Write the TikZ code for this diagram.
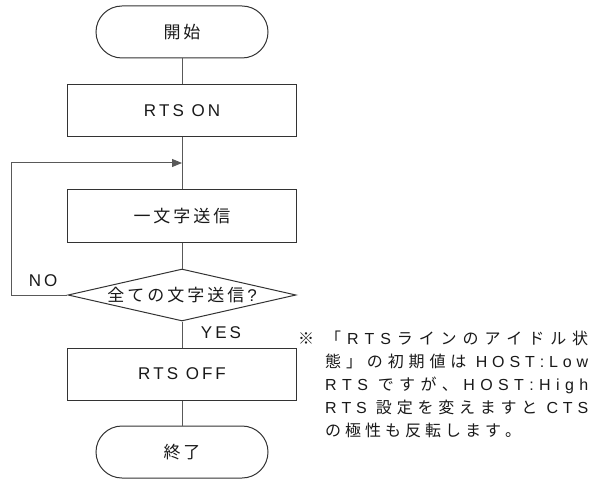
\documentclass[tikz,border=0pt]{standalone}
\usepackage{fontspec}
\setmainfont{Liberation Sans}
\newfontfamily\jp{Noto Sans CJK JP}
\usetikzlibrary{shapes.geometric,arrows.meta}
\newdimen\lsgapdim \lsgapdim=3bp
\def\lsgap{\hskip\lsgapdim\relax}
\def\sepchars#1{\sepfirst#1\relax}
\def\sepfirst#1{#1\seprest}
\def\seprest#1{\ifx\relax#1\else\lsgap#1\expandafter\seprest\fi}
\newcommand\jline[1]{\hbox to 263bp{\def\lsgap{\hskip 0pt plus 1fil\relax}#1}}
\tikzset{
  every node/.style={font=\fontsize{17bp}{20bp}\selectfont, text=black!90},
  notefont/.style={font=\fontsize{16bp}{19bp}\selectfont},
  term/.style={draw=black!80, line width=1bp, rounded corners=26bp, minimum width=172bp, minimum height=52bp, inner sep=0pt},
  proc/.style={draw=black!80, line width=1bp, minimum width=228bp, minimum height=52bp, inner sep=0pt},
  dec/.style={draw=black!80, line width=1bp, diamond, minimum width=228bp, minimum height=52bp, inner sep=0pt},
  conn/.style={draw=black!65, line width=1bp},
  notel/.style={notefont, anchor=base west, inner sep=0pt}
}
\begin{document}
\begin{tikzpicture}[x=1bp,y=-1bp]
\useasboundingbox (0,0) rectangle (593,479);
\node[term] (start) at (182,32) {{\jp\sepchars{開始}}};
\node[proc] (on) at (182,111) {\sepchars{RTS}\lsgap\ \sepchars{ON}};
\coordinate (join) at (182,163);
\node[proc] (send) at (182,216) {{\jp\sepchars{一文字送信}}};
\node[dec] (chk) at (182,295) {};
\node (chktext) at (chk) {{\jp\sepchars{全ての文字送信}}\lsgap ?};
\node[proc] (off) at (182,374) {\sepchars{RTS}\lsgap\ \sepchars{OFF}};
\node[term] (end) at (182,452) {{\jp\sepchars{終了}}};
\coordinate (lb) at (11,295);
\coordinate (lt) at (11,163);
\node (no) at (43,281) {\sepchars{NO}};
\node (yes) at (221,333) {\sepchars{YES}};
\draw[conn] (start) -- (on);
\draw[conn] (on) -- (send);
\draw[conn] (send) -- (chk);
\draw[conn] (chk) -- (off);
\draw[conn] (off) -- (end);
\draw[conn, -{Triangle[length=10bp,width=8bp]}] (chk.west) -- (lb) -- (lt) -- (join);
\node[notel] (mark) at (298,344) {{\jp ※}};
\node[notel] (n1) at (325,344) {\jline{{\jp\sepchars{「}}\lsgap\sepchars{RTS}\lsgap{\jp\sepchars{ラインのアイドル状}}}};
\node[notel] (n2) at (325,367) {\jline{{\jp\sepchars{態」の初期値は}}\lsgap\ \sepchars{HOST:Low}}};
\node[notel] (n3) at (325,390) {\jline{\sepchars{RTS}\lsgap\ {\jp\sepchars{ですが、}}\lsgap\sepchars{HOST:High}}};
\node[notel] (n4) at (325,413) {\jline{\sepchars{RTS}\lsgap\ {\jp\sepchars{設定を変えますと}}\lsgap\ \sepchars{CTS}}};
\node[notel] (n5) at (325,436) {{\lsgapdim=4bp\jp\sepchars{の極性も反転します。}}};
\end{tikzpicture}
\end{document}
